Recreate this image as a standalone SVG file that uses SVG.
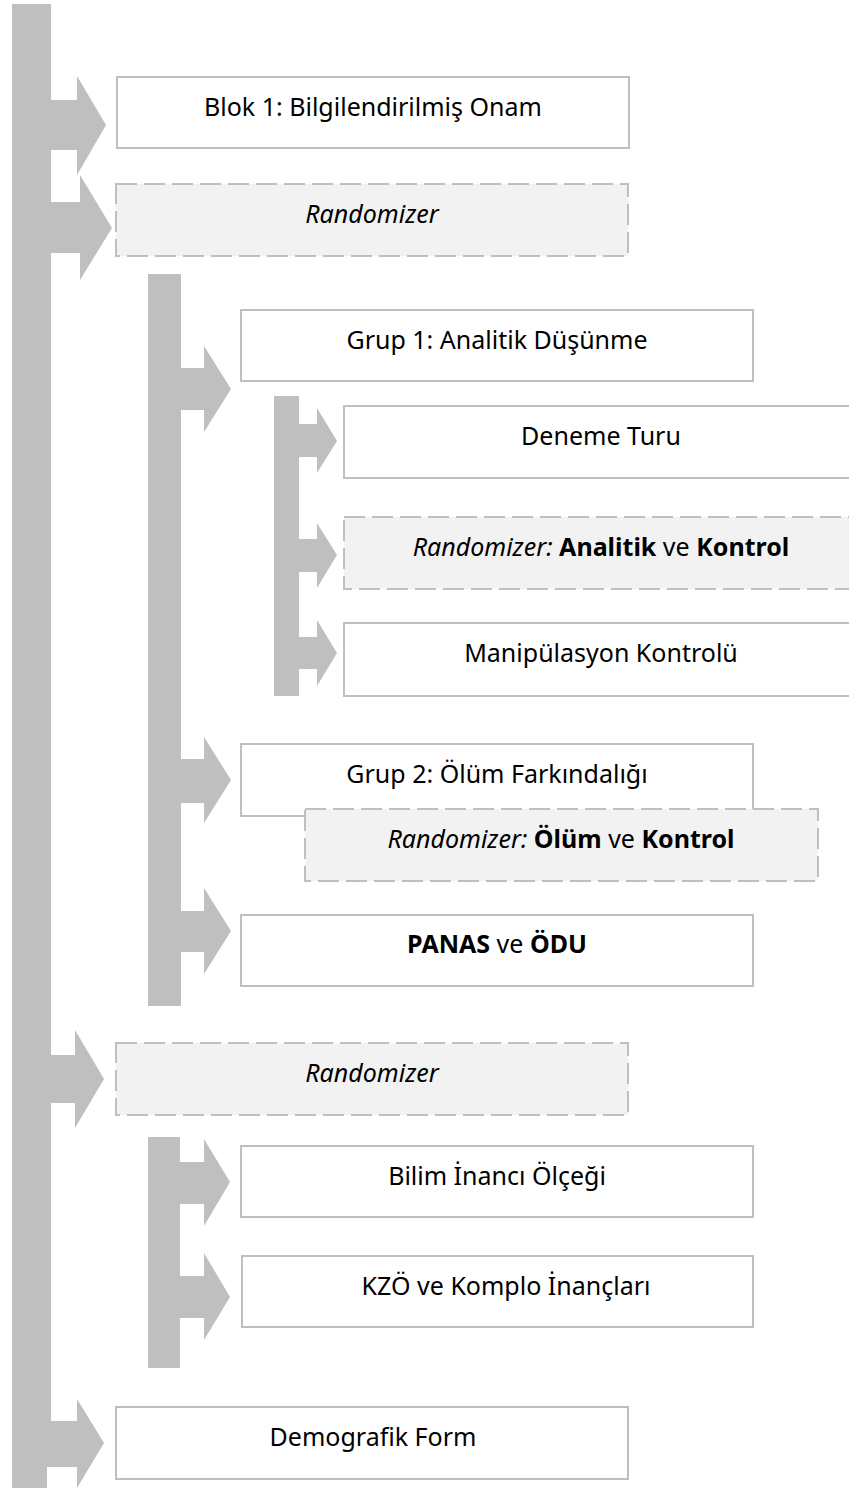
<svg xmlns="http://www.w3.org/2000/svg" width="849" height="1488" viewBox="0 0 849 1488">
<style>
.bar{fill:#bfbfbf}
.box{fill:#ffffff;stroke:#bfbfbf;stroke-width:2}
.rnd{fill:#f2f2f2;stroke:#bfbfbf;stroke-width:2;stroke-dasharray:21 7}
text{font-family:"Noto Sans","DejaVu Sans",sans-serif;font-size:25px;fill:#000;text-anchor:middle}
.i{font-style:italic}
.b{font-weight:bold}
</style>
<rect width="849" height="1488" fill="#ffffff"/>
<g id="connectors">
<rect class="bar" x="12" y="4" width="39" height="1418"/>
<rect class="bar" x="12" y="1421" width="35" height="67"/>
<rect class="bar" x="148" y="274" width="33" height="732"/>
<rect class="bar" x="274" y="396" width="25" height="300"/>
<rect class="bar" x="148" y="1137" width="32" height="231"/>
<polygon class="bar" points="50,100 77,100 77,76 106,125 77,175 77,150 50,150"/>
<polygon class="bar" points="50,202 80,202 80,175 112,228 80,280 80,253 50,253"/>
<polygon class="bar" points="180,368 204,368 204,346 231,389 204,432 204,410 180,410"/>
<polygon class="bar" points="298,424 317,424 317,408 337,441 317,473 317,457 298,457"/>
<polygon class="bar" points="298,539 317,539 317,523 337,555 317,588 317,572 298,572"/>
<polygon class="bar" points="298,637 317,637 317,620 337,653 317,686 317,669 298,669"/>
<polygon class="bar" points="180,759 204,759 204,737 231,780 204,823 204,803 180,803"/>
<polygon class="bar" points="180,911 204,911 204,888 231,931 204,974 204,952 180,952"/>
<polygon class="bar" points="50,1055 75,1055 75,1030 104,1079 75,1128 75,1103 50,1103"/>
<polygon class="bar" points="179,1162 204,1162 204,1139 230,1182 204,1226 204,1204 179,1204"/>
<polygon class="bar" points="179,1276 204,1276 204,1253 230,1297 204,1340 204,1318 179,1318"/>
<polygon class="bar" points="46,1421 77,1421 77,1399 104,1443 77,1488 77,1467 46,1467"/>
</g>
<g id="blok1"><rect class="box" x="117" y="77" width="512" height="71"/><text x="373" y="116">Blok 1: Bilgilendirilmiş Onam</text></g>
<g id="randomizer1"><rect class="rnd" x="116" y="184" width="512" height="72"/><text class="i" x="372" y="223">Randomizer</text></g>
<g id="grup1"><rect class="box" x="241" y="310" width="512" height="71"/><text x="497" y="349">Grup 1: Analitik Düşünme</text></g>
<g id="deneme"><rect class="box" x="344" y="406" width="514" height="72"/><text x="601" y="445">Deneme Turu</text></g>
<g id="randomizer-analitik"><rect class="rnd" x="344" y="517" width="514" height="72"/><text x="601" y="556"><tspan class="i">Randomizer:</tspan> <tspan class="b">Analitik</tspan> ve <tspan class="b">Kontrol</tspan></text></g>
<g id="manipulasyon"><rect class="box" x="344" y="623" width="514" height="73"/><text x="601" y="662">Manipülasyon Kontrolü</text></g>
<g id="grup2"><rect class="box" x="241" y="744" width="512" height="72"/><text x="497" y="783">Grup 2: Ölüm Farkındalığı</text></g>
<g id="randomizer-olum"><rect class="rnd" x="305" y="809" width="513" height="72"/><text x="561" y="848"><tspan class="i">Randomizer:</tspan> <tspan class="b">Ölüm</tspan> ve <tspan class="b">Kontrol</tspan></text></g>
<g id="panas"><rect class="box" x="241" y="915" width="512" height="71"/><text x="497" y="953"><tspan class="b">PANAS</tspan> ve <tspan class="b">ÖDU</tspan></text></g>
<g id="randomizer2"><rect class="rnd" x="116" y="1043" width="512" height="72"/><text class="i" x="372" y="1082">Randomizer</text></g>
<g id="bilim"><rect class="box" x="241" y="1146" width="512" height="71"/><text x="497" y="1185">Bilim İnancı Ölçeği</text></g>
<g id="kzo"><rect class="box" x="242" y="1256" width="511" height="71"/><text x="506" y="1295">KZÖ ve Komplo İnançları</text></g>
<g id="demografik"><rect class="box" x="116" y="1407" width="512" height="72"/><text x="373" y="1446">Demografik Form</text></g>
</svg>
